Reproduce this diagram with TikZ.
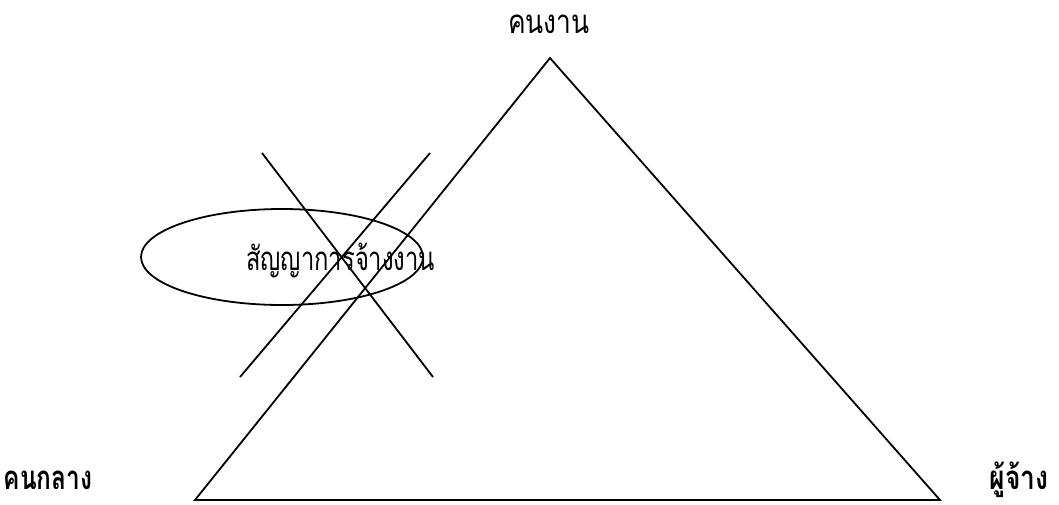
\documentclass[tikz,border=0pt]{standalone}
\usepackage{fontspec}
\newfontfamily\thaifont[Script=Thai]{Loma}
\usetikzlibrary{shapes.geometric}
\begin{document}
\begin{tikzpicture}[x=1pt,y=-1pt,
  edge/.style={draw=black,line width=1.8pt},
  lbl/.style={font=\thaifont\fontsize{33}{36}\selectfont,inner sep=0pt,anchor=base}]
\useasboundingbox (0,0) rectangle (1059,504);
\coordinate (top) at (550,58);
\coordinate (bl) at (195,500);
\coordinate (br) at (940,500);
\draw[edge,line join=miter] (top) -- (br) -- (bl) -- cycle;
\node[ellipse,draw,line width=1.8pt,minimum width=282pt,minimum height=96pt,inner sep=0pt] (contract) at (282,257) {};
\coordinate (a1) at (262,153);
\coordinate (a2) at (433,377);
\coordinate (b1) at (430,153);
\coordinate (b2) at (240,377);
\draw[edge] (a1) -- (a2);
\draw[edge] (b1) -- (b2);
\node[lbl,anchor=base west] (t) at (246,270) {\scalebox{0.72}[1]{สัญญาการจ้างงาน}};
\node[lbl] (worker) at (549,33) {\scalebox{0.8}[1]{คนงาน}};
\node[lbl] (mid) at (48,489) {\scalebox{0.74}[1]{\bfseries คนกลาง}};
\node[lbl] (emp) at (1019,489) {\scalebox{0.8}[1]{\bfseries ผู้จ้าง}};
\end{tikzpicture}
\end{document}
